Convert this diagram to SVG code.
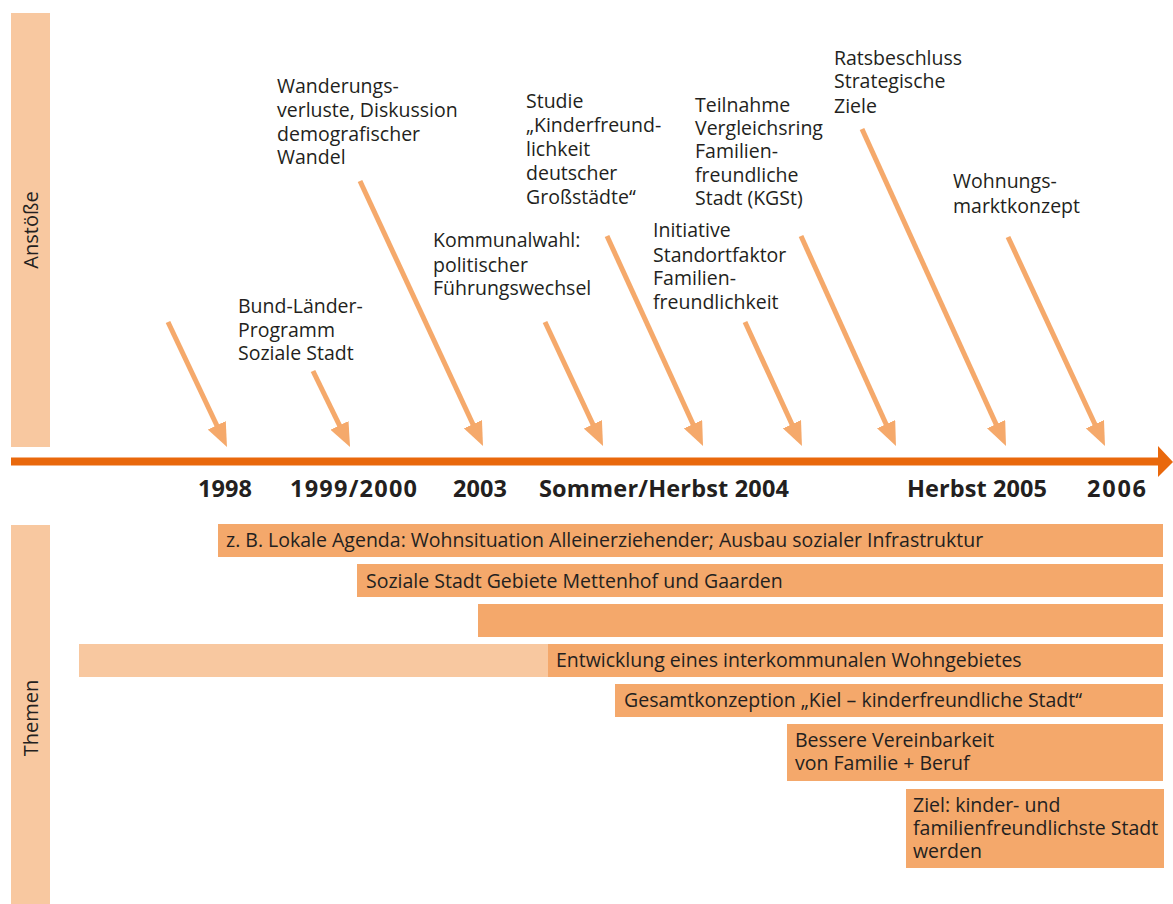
<svg xmlns="http://www.w3.org/2000/svg" width="1173" height="904" viewBox="0 0 1173 904">
<style>
.side{fill:#F8C8A0}
.bar{fill:#F4A86B}
.lbar{fill:#F8C8A0}
.t{font-family:"Open Sans","Liberation Sans",sans-serif;font-size:19.5px;fill:#231F20}
.st{font-family:"Open Sans","Liberation Sans",sans-serif;font-size:20px;fill:#231F20}
.yr{font-family:"Open Sans","Liberation Sans",sans-serif;font-size:23.5px;font-weight:bold;fill:#231F20}
.arr{stroke:#F5A96B;stroke-width:5;fill:none;marker-end:url(#ah)}
</style>
<defs>
<marker id="ah" markerUnits="userSpaceOnUse" markerWidth="24" markerHeight="20" refX="10" refY="10" orient="auto" viewBox="0 0 24 20">
<path d="M0,0 L24,10 L0,20 z" fill="#F5A96B"/>
</marker>
</defs>
<rect width="1173" height="904" fill="#fff"/>
<g id="side-anstoesse">
<rect class="side" x="11" y="13" width="39" height="434"/>
<text class="st" transform="translate(38,230) rotate(-90)" text-anchor="middle">Anstöße</text>
</g>
<g id="side-themen">
<rect class="side" x="11" y="525" width="39" height="379"/>
<text class="st" transform="translate(38,718) rotate(-90)" text-anchor="middle">Themen</text>
</g>
<g id="timeline">
<line x1="11" y1="461.5" x2="1162" y2="461.5" stroke="#E9680C" stroke-width="8"/>
<polygon points="1158,446 1173,462 1158,477" fill="#E9680C"/>
</g>
<g id="connectors">
<line class="arr" x1="168" y1="322" x2="221" y2="434.3"/>
<line class="arr" x1="313" y1="371" x2="343.9" y2="434.4"/>
<line class="arr" x1="360" y1="181" x2="477.1" y2="433.3"/>
<line class="arr" x1="545" y1="322" x2="597.1" y2="433.3"/>
<line class="arr" x1="607" y1="236" x2="697.2" y2="433.3"/>
<line class="arr" x1="745" y1="322" x2="796.1" y2="433.3"/>
<line class="arr" x1="801" y1="236" x2="890.2" y2="433.3"/>
<line class="arr" x1="862" y1="129" x2="1000.2" y2="433.3"/>
<line class="arr" x1="1008" y1="237" x2="1099.1" y2="433.3"/>
</g>
<g id="n-wanderung">
<text class="t"><tspan x="277" y="93">Wanderungs-</tspan><tspan x="277" y="117">verluste, Diskussion</tspan><tspan x="277" y="141">demografischer</tspan><tspan x="277" y="164">Wandel</tspan></text>
</g>
<g id="n-bund">
<text class="t"><tspan x="238" y="313">Bund-Länder-</tspan><tspan x="238" y="337">Programm</tspan><tspan x="238" y="360">Soziale Stadt</tspan></text>
</g>
<g id="n-studie">
<text class="t"><tspan x="526" y="108">Studie</tspan><tspan x="526" y="132">„Kinderfreund-</tspan><tspan x="526" y="156">lichkeit</tspan><tspan x="526" y="180">deutscher</tspan><tspan x="526" y="204">Großstädte“</tspan></text>
</g>
<g id="n-kommunalwahl">
<text class="t"><tspan x="433" y="247">Kommunalwahl:</tspan><tspan x="433" y="272">politischer</tspan><tspan x="433" y="295">Führungswechsel</tspan></text>
</g>
<g id="n-teilnahme">
<text class="t"><tspan x="695" y="112">Teilnahme</tspan><tspan x="695" y="135">Vergleichsring</tspan><tspan x="695" y="158">Familien-</tspan><tspan x="695" y="182">freundliche</tspan><tspan x="695" y="205">Stadt (KGSt)</tspan></text>
</g>
<g id="n-initiative">
<text class="t"><tspan x="653" y="237">Initiative</tspan><tspan x="653" y="262">Standortfaktor</tspan><tspan x="653" y="285">Familien-</tspan><tspan x="653" y="309">freundlichkeit</tspan></text>
</g>
<g id="n-ratsbeschluss">
<text class="t"><tspan x="834" y="65">Ratsbeschluss</tspan><tspan x="834" y="88">Strategische</tspan><tspan x="834" y="113">Ziele</tspan></text>
</g>
<g id="n-wohnungsmarkt">
<text class="t"><tspan x="953" y="188">Wohnungs-</tspan><tspan x="953" y="213">marktkonzept</tspan></text>
</g>
<g id="years">
<text class="yr" x="198" y="497" textLength="54">1998</text>
<text class="yr" x="290" y="497" textLength="127">1999/2000</text>
<text class="yr" x="453" y="497" textLength="54">2003</text>
<text class="yr" x="539" y="497" textLength="250">Sommer/Herbst 2004</text>
<text class="yr" x="907" y="497" textLength="140">Herbst 2005</text>
<text class="yr" x="1087" y="497" textLength="59">2006</text>
</g>
<g id="bar-agenda">
<rect class="bar" x="218" y="524" width="945" height="33"/>
<text class="t" x="226" y="547">z. B. Lokale Agenda: Wohnsituation Alleinerziehender; Ausbau sozialer Infrastruktur</text>
</g>
<g id="bar-sozialestadt">
<rect class="bar" x="357" y="564" width="806" height="33"/>
<text class="t" x="366" y="588">Soziale Stadt Gebiete Mettenhof und Gaarden</text>
</g>
<g id="bar-empty">
<rect class="bar" x="478" y="604" width="685" height="33"/>
</g>
<g id="bar-wohngebiet">
<rect class="lbar" x="79" y="644" width="469" height="33"/>
<rect class="bar" x="548" y="644" width="615" height="33"/>
<text class="t" x="556" y="667">Entwicklung eines interkommunalen Wohngebietes</text>
</g>
<g id="bar-gesamtkonzeption">
<rect class="bar" x="615" y="684" width="548" height="33"/>
<text class="t" x="624" y="707">Gesamtkonzeption „Kiel – kinderfreundliche Stadt“</text>
</g>
<g id="bar-vereinbarkeit">
<rect class="bar" x="787" y="724" width="376" height="57"/>
<text class="t"><tspan x="795" y="747">Bessere Vereinbarkeit</tspan><tspan x="795" y="770">von Familie + Beruf</tspan></text>
</g>
<g id="bar-ziel">
<rect class="bar" x="906" y="789" width="258" height="79"/>
<text class="t"><tspan x="913" y="812">Ziel: kinder- und</tspan><tspan x="913" y="835">familienfreundlichste Stadt</tspan><tspan x="913" y="858">werden</tspan></text>
</g>
</svg>
